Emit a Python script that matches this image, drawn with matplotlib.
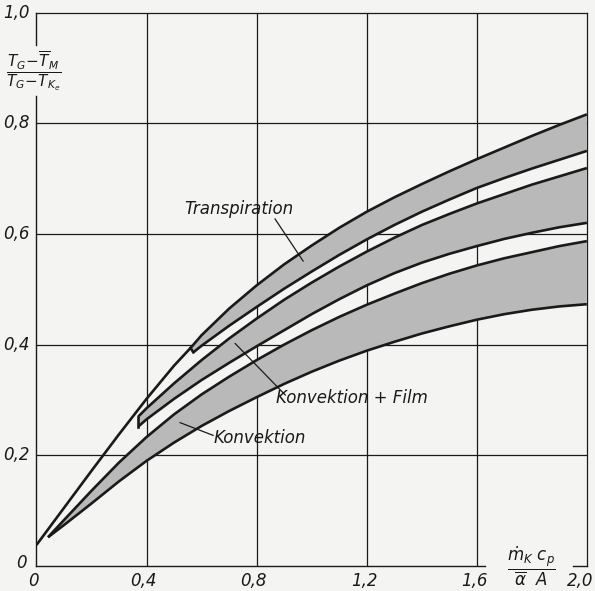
# Wirkungsgrad der Kühlung: Konvektion, Konvektion + Film, Transpiration
import matplotlib
matplotlib.use("Agg")
import matplotlib.pyplot as plt
import numpy as np

plt.rcParams['font.family'] = ['Liberation Sans Narrow', 'DejaVu Sans']
plt.rcParams['mathtext.fontset'] = 'custom'
plt.rcParams['mathtext.it'] = 'Liberation Sans Narrow:italic'
plt.rcParams['mathtext.rm'] = 'Liberation Sans Narrow:italic'
plt.rcParams['mathtext.fallback'] = 'stixsans'

x_top = [0.0, 0.1, 0.2, 0.3, 0.4, 0.5, 0.56, 0.6, 0.7, 0.8, 0.9, 1.0, 1.1, 1.2,
         1.3, 1.4, 1.5, 1.6, 1.7, 1.8, 1.9, 2.0]
y_top = [0.038, 0.105, 0.172, 0.238, 0.302, 0.362, 0.394, 0.417, 0.465, 0.507,
         0.545, 0.579, 0.611, 0.640, 0.666, 0.690, 0.713, 0.735, 0.756, 0.777,
         0.797, 0.816]

x_tr = [0.57, 0.6, 0.7, 0.8, 0.9, 1.0, 1.1, 1.2, 1.3, 1.4, 1.5, 1.6, 1.7, 1.8,
        1.9, 2.0]
y_tr = [0.386, 0.398, 0.434, 0.468, 0.501, 0.532, 0.562, 0.590, 0.616, 0.640,
        0.662, 0.683, 0.701, 0.718, 0.734, 0.750]

x_kf = [0.37, 0.4, 0.5, 0.6, 0.7, 0.8, 0.9, 1.0, 1.1, 1.2, 1.3, 1.4, 1.5, 1.6,
        1.7, 1.8, 1.9, 2.0]
y_kf_up = [0.270, 0.285, 0.330, 0.372, 0.411, 0.447, 0.481, 0.512, 0.541, 0.568,
           0.593, 0.616, 0.636, 0.655, 0.672, 0.689, 0.704, 0.719]
y_kf_lo = [0.252, 0.265, 0.302, 0.336, 0.367, 0.397, 0.426, 0.455, 0.482, 0.507,
           0.529, 0.548, 0.564, 0.578, 0.591, 0.602, 0.612, 0.620]

x_k = [0.042, 0.1, 0.2, 0.3, 0.4, 0.5, 0.6, 0.7, 0.8, 0.9, 1.0, 1.1, 1.2, 1.3,
       1.4, 1.5, 1.6, 1.7, 1.8, 1.9, 2.0]
y_k_up = [0.052, 0.083, 0.136, 0.187, 0.233, 0.274, 0.310, 0.342, 0.372, 0.400,
          0.426, 0.450, 0.472, 0.492, 0.511, 0.528, 0.543, 0.556, 0.567, 0.578,
          0.587]
y_k_lo = [0.052, 0.074, 0.113, 0.153, 0.190, 0.223, 0.253, 0.280, 0.305, 0.329,
          0.351, 0.371, 0.389, 0.405, 0.420, 0.433, 0.445, 0.455, 0.463, 0.469,
          0.473]

x_ticks = [0, 0.4, 0.8, 1.2, 1.6, 2.0]
x_labels = ['0', '0,4', '0,8', '1,2', '1,6', '2,0']
y_ticks = [0.2, 0.4, 0.6, 0.8, 1.0]
y_labels = ['0,2', '0,4', '0,6', '0,8', '1,0']

bg = '#f4f4f2'
ink = '#1a1a1a'
shade = '#b9b9b9'

fig = plt.figure(figsize=(5.95, 5.91), dpi=100, facecolor=bg)
ax = fig.add_axes([0.0613, 0.0423, 0.925, 0.9365])
ax.set_facecolor(bg)
ax.set_xlim(0, 2.0)
ax.set_ylim(0, 1.0)
for s in ax.spines.values():
    s.set_visible(False)
ax.set_xticks([])
ax.set_yticks([])

# Gitter
for xv in x_ticks[1:-1]:
    ax.plot([xv, xv], [0, 1.0], color=ink, lw=0.9, zorder=1)
for yv in y_ticks[:-1]:
    ax.plot([0, 2.0], [yv, yv], color=ink, lw=0.9, zorder=1)
# Rahmen (mit Lücken für die Achsbeschriftung)
ax.plot([0, 2.0], [1.0, 1.0], color=ink, lw=0.9, zorder=1, clip_on=False)
ax.plot([2.0, 2.0], [0, 1.0], color=ink, lw=0.9, zorder=1, clip_on=False)
ax.plot([0, 0], [0, 0.849], color=ink, lw=1.0, zorder=1, clip_on=False)
ax.plot([0, 0], [0.942, 1.0], color=ink, lw=1.0, zorder=1, clip_on=False)
ax.plot([0, 1.63], [0, 0], color=ink, lw=1.0, zorder=1, clip_on=False)
ax.plot([1.95, 2.0], [0, 0], color=ink, lw=1.0, zorder=1, clip_on=False)

# Bänder
x_tr_top = [x for x in x_top if x >= 0.56]
y_tr_top = [y for x, y in zip(x_top, y_top) if x >= 0.56]
ax.fill(x_tr + x_tr_top[::-1], y_tr + y_tr_top[::-1], color=shade, lw=0, zorder=2)
ax.fill(x_kf + x_kf[::-1], y_kf_lo + y_kf_up[::-1], color=shade, lw=0, zorder=2)
ax.fill(x_k + x_k[::-1], y_k_lo + y_k_up[::-1], color=shade, lw=0, zorder=2)

lw = 1.9
ax.plot(x_top, y_top, color=ink, lw=lw, zorder=3, solid_capstyle='butt')
ax.plot(x_tr, y_tr, color=ink, lw=lw, zorder=3, solid_capstyle='butt')
ax.plot([x_tr[0], 0.56], [y_tr[0], 0.394], color=ink, lw=lw, zorder=3)
ax.plot(x_kf, y_kf_up, color=ink, lw=lw, zorder=3, solid_capstyle='butt')
ax.plot(x_kf, y_kf_lo, color=ink, lw=lw, zorder=3, solid_capstyle='butt')
ax.plot([x_kf[0], x_kf[0]], [y_kf_lo[0], y_kf_up[0]], color=ink, lw=lw, zorder=3)
ax.plot(x_k, y_k_up, color=ink, lw=lw, zorder=3, solid_capstyle='butt')
ax.plot(x_k, y_k_lo, color=ink, lw=lw, zorder=3, solid_capstyle='butt')

# Beschriftungen mit Hinweislinien
fs = 12
ax.text(0.736, 0.645, 'Transpiration', fontsize=fs, style='italic', color=ink,
        ha='center', va='center', zorder=4)
ax.plot([0.867, 0.969], [0.627, 0.551], color=ink, lw=0.9, zorder=4)
ax.text(1.147, 0.303, 'Konvektion + Film', fontsize=fs, style='italic', color=ink,
        ha='center', va='center', zorder=4)
ax.plot([0.904, 0.722], [0.309, 0.402], color=ink, lw=0.9, zorder=4)
ax.text(0.81, 0.231, 'Konvektion', fontsize=fs, style='italic', color=ink,
        ha='center', va='center', zorder=4)
ax.plot([0.642, 0.522], [0.236, 0.259], color=ink, lw=0.9, zorder=4)

# Achsenteilung
for xv, lab in zip(x_ticks[:-1], x_labels[:-1]):
    ax.text(xv - 0.01, -0.027, lab, fontsize=fs, style='italic', color=ink,
            ha='center', va='center', clip_on=False)
ax.text(2.024, -0.027, x_labels[-1], fontsize=fs, style='italic', color=ink,
        ha='right', va='center', clip_on=False)
ax.text(-0.035, 0.005, '0', fontsize=fs, style='italic', color=ink,
        ha='right', va='center', clip_on=False)
for yv, lab in zip(y_ticks, y_labels):
    ax.text(-0.025, yv, lab, fontsize=fs, style='italic', color=ink,
            ha='right', va='center', clip_on=False)

# Achsentitel
ax.text(-0.01, 0.895, r'$\dfrac{T_G\!-\!\overline{T}_M}{T_G\!-\!T_{K_e}}$',
        fontsize=11, color=ink, ha='center', va='center', clip_on=False)
ax.text(1.80, 0.0, r'$\dfrac{\dot{m}_K\ c_p}{\overline{\alpha}\ \ A}$',
        fontsize=12, color=ink, ha='center', va='center', clip_on=False)

plt.savefig('out.png', dpi=100, facecolor=bg)
